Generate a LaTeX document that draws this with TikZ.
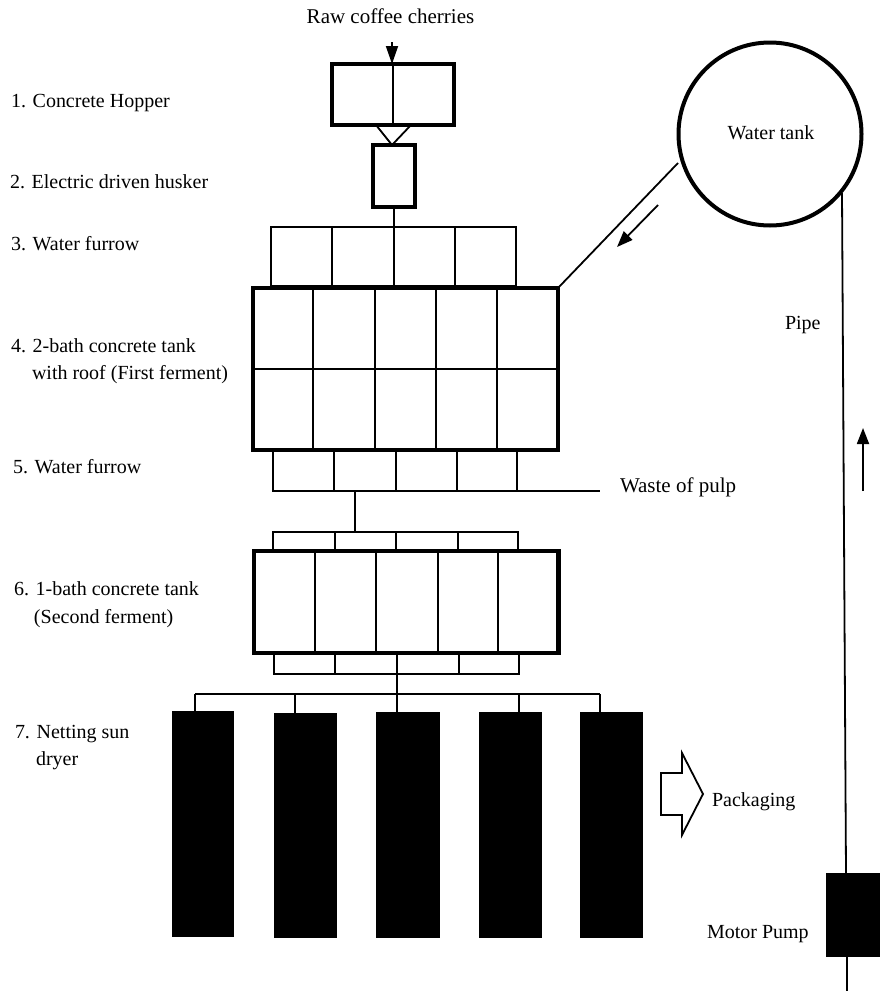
\documentclass[tikz,border=0pt]{standalone}
\usepackage{fontspec}
\setmainfont{Liberation Serif}
\usetikzlibrary{arrows.meta,calc}
\tikzset{
  heavybox/.style={draw=black,line width=4.5pt,fill=white,inner sep=0pt,outer sep=0pt,rectangle},
  thinbox/.style={draw=black,line width=1.8pt,fill=white,inner sep=0pt,outer sep=0pt,rectangle},
  solidbox/.style={draw=none,fill=black,inner sep=0pt,outer sep=0pt,rectangle},
  lab/.style={anchor=base west,inner sep=0pt,outer sep=0pt,font=\fontsize{20}{24}\selectfont,text=black},
  labc/.style={anchor=base,inner sep=0pt,outer sep=0pt,font=\fontsize{20}{24}\selectfont,text=black},
  labwide/.style={font=\fontsize{21}{24}\selectfont},
  pipeline/.style={line width=1.8pt,draw=black},
  divider/.style={line width=2pt,draw=black},
  flow/.style={line width=1.8pt,draw=black,-{Triangle[length=16pt,width=12pt]}},
}
\begin{document}
\begin{tikzpicture}[x=1pt,y=-1pt]
\useasboundingbox[fill=white] (0,0) rectangle (880,991);
% boxes
\node[heavybox,minimum width=122pt,minimum height=61pt] (hopper) at (393,94.5) {};
\node[heavybox,minimum width=42pt,minimum height=62pt] (husker) at (394,176) {};
\node[thinbox,minimum width=245pt,minimum height=59pt] (furrowA) at (393.5,256.5) {};
\node[thinbox,minimum width=244pt,minimum height=40pt] (furrowB) at (395,471) {};
\node[thinbox,minimum width=245pt,minimum height=19pt] (furrowC) at (395.5,541.5) {};
\node[thinbox,minimum width=245pt,minimum height=21pt] (furrowD) at (396.5,663.5) {};
\node[heavybox,minimum width=305pt,minimum height=162pt] (tankA) at (405.5,369) {};
\node[heavybox,minimum width=304.5pt,minimum height=102pt] (tankB) at (406.25,602) {};
\node[solidbox,minimum width=62pt,minimum height=226pt] (dryA) at (203,824) {};
\node[solidbox,minimum width=63pt,minimum height=225pt] (dryB) at (305,825.5) {};
\node[solidbox,minimum width=64pt,minimum height=226pt] (dryC) at (408,825) {};
\node[solidbox,minimum width=63pt,minimum height=226pt] (dryD) at (510,825) {};
\node[solidbox,minimum width=63pt,minimum height=226pt] (dryE) at (611,825) {};
\node[solidbox,minimum width=54pt,minimum height=84pt] (pump) at (853,915) {};
\node[draw=black,line width=4pt,circle,minimum size=183pt,inner sep=0pt,outer sep=0pt,fill=white] (wtank) at (770,134) {};
% dividers
\draw[divider] (393,0 |- hopper.north) -- (393,0 |- hopper.south);
\foreach \x in {332,394,455} \draw[divider] (\x,0 |- furrowA.north) -- (\x,0 |- furrowA.south);
\foreach \x in {313,375,436,497} \draw[divider] (\x,0 |- tankA.north) -- (\x,0 |- tankA.south);
\draw[divider] (tankA.west |- 0,369) -- (tankA.east |- 0,369);
\foreach \x in {334,396,457} \draw[divider] (\x,0 |- furrowB.north) -- (\x,0 |- furrowB.south);
\foreach \x in {335,396,458} \draw[divider] (\x,0 |- furrowC.north) -- (\x,0 |- furrowC.south);
\foreach \x in {315,376,437.5,498} \draw[divider] (\x,0 |- tankB.north) -- (\x,0 |- tankB.south);
\foreach \x in {335,397,459} \draw[divider] (\x,0 |- furrowD.north) -- (\x,0 |- furrowD.south);
% connectors
\coordinate (rawIn) at (392,42);
\draw[pipeline,-{Triangle[length=18pt,width=12pt]}] (rawIn) -- (392,0 |- hopper.north);
\coordinate (vtip) at (392,145);
\draw[pipeline] (376,0 |- hopper.south) -- (vtip) -- (411,0 |- hopper.south);
\draw[pipeline] (husker.south) -- (394,0 |- tankA.north);
\draw[pipeline] (tankA.north east) -- ($(wtank.center)+(-92,29)$);
\coordinate (wasteEnd) at (600,491);
\draw[pipeline] (furrowB.south east) -- (wasteEnd);
\draw[divider] (355,0 |- furrowB.south) -- (355,0 |- furrowC.north);
\draw[line width=2.5pt] (397,0 |- furrowD.south) -- (397,0 |- dryC.north);
\coordinate (busL) at (195,694);
\coordinate (busR) at (600,694);
\draw[pipeline] (busL) -- (busR);
\draw[pipeline] (busL) -- (195,0 |- dryA.north);
\draw[pipeline] (295,694) -- (295,0 |- dryB.north);
\draw[pipeline] (519,694) -- (519,0 |- dryD.north);
\draw[pipeline] (busR) -- (600,0 |- dryE.north);
\draw[pipeline] (842,193) -- (846,0 |- pump.north);
\coordinate (pumpEnd) at (847,991);
\draw[pipeline] (847,0 |- pump.south) -- (pumpEnd);
% flow arrows
\coordinate (fa1) at (658,205); \coordinate (fa2) at (617,247);
\draw[flow] (fa1) -- (fa2);
\coordinate (fb1) at (863,491); \coordinate (fb2) at (863,428);
\draw[flow] (fb1) -- (fb2);
% packaging arrow
\draw[line width=1.8pt,line join=miter,fill=white] (661,773) -- (682,773) -- (682,753) -- (703,794) -- (682,835) -- (682,815) -- (661,815) -- cycle;
% labels
\node[labc,labwide] (tRaw) at (390.5,23) {Raw coffee cherries};
\node[labc] (tTank) at (771,139) {Water tank};
\node[lab] (t1) at (11,107) {1. Concrete Hopper};
\node[lab] (t2) at (10,188) {2. Electric driven husker};
\node[lab] (t3) at (11,250) {3. Water furrow};
\node[lab] (t4) at (11,352) {4. 2-bath concrete tank};
\node[lab] (t4b) at (32,379) {with roof (First ferment)};
\node[lab] (t5) at (13,473) {5. Water furrow};
\node[lab] (t6) at (14,595) {6. 1-bath concrete tank};
\node[lab] (t6b) at (34,623) {(Second ferment)};
\node[lab] (t7) at (15,738) {7. Netting sun};
\node[lab] (t7b) at (36,765) {dryer};
\node[lab,labwide] (tWaste) at (620,492) {Waste of pulp};
\node[lab] (tPipe) at (785,329) {Pipe};
\node[lab] (tPack) at (712,806) {Packaging};
\node[lab] (tPump) at (707,938) {Motor Pump};
\end{tikzpicture}
\end{document}
